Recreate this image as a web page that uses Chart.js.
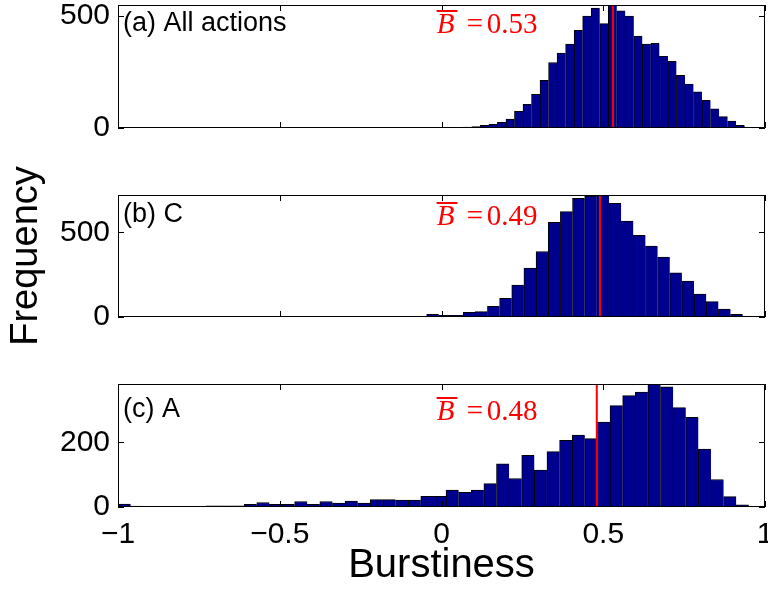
<!DOCTYPE html>
<html>
<head>
<meta charset="utf-8">
<script src="https://cdn.jsdelivr.net/npm/chart.js@4.4.0/dist/chart.umd.min.js"></script>
<style>
  body { margin: 0; background: #fff; }
  #wrap { position: relative; width: 768px; height: 590px; }
  #wrap canvas { position: absolute; left: 0; top: 0; }
</style>
</head>
<body>
<div id="wrap">
  <canvas id="panelA" width="768" height="590"></canvas>
  <canvas id="panelB" width="768" height="590"></canvas>
  <canvas id="panelC" width="768" height="590"></canvas>
</div>
<script>
const xTickValues = [-1, -0.5, 0, 0.5, 1]

// (a) All actions : 50 bins
const binStartA = -0.3805
const binWidthA = 0.02635
const countsA = [1, 0, 0, 0, 1, 0, 0, 1, 0, 1, 1, 0, 1, 1, 2, 2, 3,
  4, 6, 12, 16, 25, 40, 74, 106, 150, 213, 293, 335, 375, 437, 500, 536, 467, 549,
  524, 500, 411, 375, 379, 321, 298, 235, 196, 162, 124, 86, 51, 31, 12]
const yTicksA = [0, 500]
const yMaxA = 550
const meanA = 0.53

// (b) C
const binStartB = -0.9475
const binWidthB = 0.03757
const countsB = [2, 2, 1, 1, 0, 0, 0, 0, 0, 0, 1, 0, 0, 1, 1, 0, 0, 1, 1, 0, 1, 2, 2, 3,
  16, 10, 10, 28, 32, 63, 111, 188, 289, 387, 559, 623, 702, 715, 721, 672, 567,
  482, 419, 354, 261, 212, 136, 91, 47, 16]
const yTicksB = [0, 500]
const yMaxB = 721
const meanB = 0.49

// (c) A
const binStartC = -1.0
const binWidthC = 0.039
const countsC = [9, 3, 1, 1, 1, 1, 2, 4, 4, 4, 8, 14, 8, 8, 17, 8, 17, 12, 18, 12, 23, 23, 21, 21,
  33, 33, 52, 45, 52, 72, 133, 88, 160, 114, 171, 206, 222, 211, 262, 313, 344, 355,
  380, 371, 307, 277, 179, 85, 32, 7]
const yTicksC = [0, 200]
const yMaxC = 380
const meanC = 0.48

const sans = '"Liberation Sans", Arial, Helvetica, sans-serif'
const serif = '"Liberation Serif", "Times New Roman", serif'

// box, inward ticks, mean line and texts inside each panel
const panelDeco = {
  id: 'panelDeco',
  afterDatasetsDraw(chart, args, opts) {
    const { ctx, chartArea: a, scales: { x, y } } = chart
    ctx.save()

    const mx = x.getPixelForValue(opts.mean)
    ctx.strokeStyle = '#ff0000'
    ctx.lineWidth = 2
    ctx.beginPath()
    ctx.moveTo(mx, a.top)
    ctx.lineTo(mx, a.bottom)
    ctx.stroke()

    ctx.strokeStyle = '#000'
    ctx.lineWidth = 1
    ctx.strokeRect(a.left + 0.5, a.top + 0.5, a.right - a.left - 1, a.bottom - a.top - 1)
    ctx.beginPath()
    xTickValues.forEach(v => {
      const px = Math.round(x.getPixelForValue(v)) + 0.5
      ctx.moveTo(px, a.bottom); ctx.lineTo(px, a.bottom - 6)
      ctx.moveTo(px, a.top); ctx.lineTo(px, a.top + 6)
    })
    opts.yTicks.forEach(v => {
      const py = Math.round(y.getPixelForValue(v)) + 0.5
      ctx.moveTo(a.left, py); ctx.lineTo(a.left + 6, py)
      ctx.moveTo(a.right, py); ctx.lineTo(a.right - 6, py)
    })
    ctx.stroke()

    ctx.fillStyle = '#000'
    ctx.textAlign = 'left'
    ctx.textBaseline = 'alphabetic'
    ctx.font = '27px ' + sans
    ctx.fillText(opts.label, a.left + 5, a.top + opts.labelDy)

    // mean annotation: B with a bar over it
    const tx = x.getPixelForValue(-0.015)
    const ty = a.top + opts.annoDy
    ctx.fillStyle = '#ff0000'
    ctx.font = 'italic 29px ' + serif
    ctx.fillText('B', tx, ty)
    const bw = ctx.measureText('B').width
    ctx.fillRect(tx, ty - 23, bw + 3, 2)
    ctx.font = '29px ' + serif
    ctx.fillText('=', tx + 30, ty)
    ctx.fillText(opts.mean.toFixed(2), tx + 50, ty)
    ctx.restore()
  }
}

function makePanel(id, counts, binStart, binWidth, yTicks, yMax, mean, deco, pad, showX) {
  const points = counts.map((c, i) => ({ x: binStart + (i + 0.5) * binWidth, y: c }))
  return new Chart(document.getElementById(id), {
    type: 'bar',
    data: {
      datasets: [{
        data: points,
        backgroundColor: '#00008F',
        borderColor: '#000',
        borderWidth: { left: 1, top: 1, right: 0, bottom: 0 },
        borderSkipped: false,
        barPercentage: 1,
        categoryPercentage: 1
      }]
    },
    options: {
      responsive: false,
      animation: false,
      events: [],
      layout: { padding: { top: pad.top, bottom: pad.bottom, left: 0, right: 3 } },
      plugins: {
        legend: { display: false },
        tooltip: { enabled: false },
        panelDeco: Object.assign({ mean: mean, yTicks: yTicks }, deco)
      },
      scales: {
        x: {
          type: 'linear',
          min: -1,
          max: 1,
          offset: false,
          display: showX,
          grid: { display: false, drawTicks: false, offset: false },
          border: { display: false },
          ticks: {
            color: '#000',
            padding: 10,
            maxRotation: 0,
            font: { family: sans, size: 30 },
            callback: v => String(v).replace('-', '\u2212')
          },
          title: {
            display: showX,
            text: 'Burstiness',
            color: '#000',
            font: { family: sans, size: 40 },
            padding: { top: 0, bottom: 0 }
          },
          afterBuildTicks: s => { s.ticks = xTickValues.map(v => ({ value: v })) },
          afterFit: s => {
            s.height = showX ? 83 : 0
            s.paddingLeft = 0
            s.paddingRight = 0
          }
        },
        y: {
          min: 0,
          max: yMax,
          grid: { display: false, drawTicks: false },
          border: { display: false },
          ticks: { color: '#000', padding: 8, font: { family: sans, size: 30 } },
          title: {
            display: deco.yTitle,
            text: 'Frequency',
            color: '#000',
            font: { family: sans, size: 38 }
          },
          afterBuildTicks: s => { s.ticks = yTicks.map(v => ({ value: v })) },
          afterFit: s => { s.width = 118; s.paddingTop = 0; s.paddingBottom = 0 }
        }
      }
    },
    plugins: [panelDeco]
  })
}

makePanel('panelA', countsA, binStartA, binWidthA, yTicksA, yMaxA, meanA,
  { label: '(a) All actions', labelDy: 26, annoDy: 28, yTitle: false },
  { top: 5, bottom: 590 - 128 }, false)
makePanel('panelB', countsB, binStartB, binWidthB, yTicksB, yMaxB, meanB,
  { label: '(b) C', labelDy: 27, annoDy: 30, yTitle: true },
  { top: 195, bottom: 590 - 317 }, false)
makePanel('panelC', countsC, binStartC, binWidthC, yTicksC, yMaxC, meanC,
  { label: '(c) A', labelDy: 33, annoDy: 36, yTitle: false },
  { top: 384, bottom: 0 }, true)
</script>
</body>
</html>
